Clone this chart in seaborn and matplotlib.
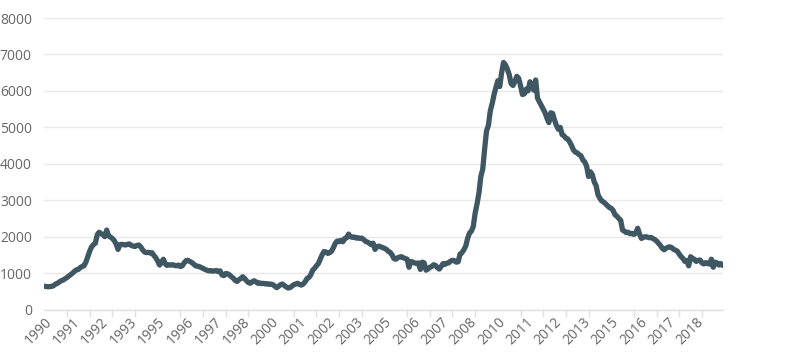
import matplotlib
matplotlib.use('Agg')
import matplotlib.pyplot as plt
import seaborn as sns
import pandas as pd
import numpy as np

# long-term unemployed (27+ weeks), thousands, monthly Jan 1990 - Dec 2019
v1990 = [640, 630, 625, 630, 635, 660, 700, 720, 760, 790, 810, 845]
v1991 = [880, 920, 960, 1000, 1050, 1090, 1100, 1150, 1180, 1200, 1300, 1450]
v1992 = [1600, 1720, 1780, 1820, 2050, 2120, 2080, 2060, 2000, 2180, 2020, 1990]
v1993 = [1950, 1890, 1800, 1650, 1780, 1790, 1780, 1770, 1790, 1800, 1760, 1740]
v1994 = [1730, 1760, 1770, 1720, 1640, 1580, 1560, 1570, 1550, 1560, 1480, 1420]
v1995 = [1330, 1220, 1300, 1380, 1250, 1210, 1230, 1220, 1230, 1210, 1200, 1220]
v1996 = [1180, 1200, 1280, 1340, 1350, 1320, 1290, 1250, 1200, 1190, 1180, 1150]
v1997 = [1130, 1100, 1080, 1060, 1070, 1050, 1060, 1070, 1040, 1060, 950, 930]
v1998 = [990, 980, 950, 900, 860, 800, 770, 820, 850, 900, 850, 790]
v1999 = [740, 720, 760, 790, 760, 720, 730, 710, 720, 700, 710, 690]
v2000 = [700, 680, 640, 600, 640, 680, 700, 660, 620, 590, 600, 640]
v2001 = [680, 700, 720, 690, 670, 700, 760, 850, 880, 950, 1080, 1130]
v2002 = [1200, 1260, 1380, 1500, 1590, 1580, 1540, 1560, 1600, 1700, 1820, 1880]
v2003 = [1860, 1900, 1860, 1950, 1970, 2070, 2000, 1980, 1990, 1960, 1970, 1950]
v2004 = [1960, 1920, 1870, 1850, 1820, 1780, 1820, 1650, 1720, 1740, 1720, 1700]
v2005 = [1680, 1650, 1600, 1570, 1500, 1400, 1380, 1420, 1440, 1450, 1420, 1400]
v2006 = [1380, 1160, 1320, 1300, 1280, 1260, 1280, 1100, 1300, 1280, 1080, 1110]
v2007 = [1160, 1180, 1230, 1210, 1150, 1110, 1180, 1260, 1240, 1270, 1280, 1330]
v2008 = [1350, 1340, 1300, 1310, 1520, 1560, 1640, 1740, 1950, 2100, 2150, 2280]
v2009 = [2650, 2900, 3200, 3650, 3850, 4400, 4900, 5050, 5450, 5650, 5900, 6100]
v2010 = [6280, 6120, 6500, 6780, 6720, 6600, 6450, 6200, 6150, 6250, 6400, 6350]
v2011 = [6150, 5900, 5920, 6050, 6000, 6250, 6150, 6020, 6300, 5800, 5700, 5600]
v2012 = [5500, 5400, 5250, 5130, 5400, 5380, 5200, 5050, 4950, 5000, 4800, 4770]
v2013 = [4700, 4680, 4600, 4500, 4380, 4320, 4300, 4250, 4220, 4100, 4050, 3930]
v2014 = [3650, 3780, 3700, 3500, 3400, 3150, 3050, 2980, 2950, 2900, 2850, 2800]
v2015 = [2780, 2720, 2600, 2560, 2500, 2450, 2180, 2150, 2110, 2120, 2080, 2090]
v2016 = [2060, 2100, 2230, 2070, 1950, 1980, 2000, 1990, 1970, 1980, 1950, 1920]
v2017 = [1880, 1820, 1760, 1680, 1640, 1680, 1710, 1720, 1700, 1650, 1630, 1600]
v2018 = [1520, 1450, 1400, 1320, 1340, 1200, 1450, 1400, 1380, 1320, 1350, 1360]
v2019 = [1280, 1250, 1290, 1260, 1250, 1380, 1160, 1300, 1280, 1220, 1260, 1210]

values = (v1990 + v1991 + v1992 + v1993 + v1994 + v1995 + v1996 + v1997 + v1998
          + v1999 + v2000 + v2001 + v2002 + v2003 + v2004 + v2005 + v2006 + v2007
          + v2008 + v2009 + v2010 + v2011 + v2012 + v2013 + v2014 + v2015 + v2016
          + v2017 + v2018 + v2019)

# axis labels sit every 15 months, tick marks every 12
tick_labels = ['1990', '1991', '1992', '1993', '1995', '1996', '1997', '1998',
               '2000', '2001', '2002', '2003', '2005', '2006', '2007', '2008',
               '2010', '2011', '2012', '2013', '2015', '2016', '2017', '2018']
y_ticks = [0, 1000, 2000, 3000, 4000, 5000, 6000, 7000, 8000]

df = pd.DataFrame({'month': np.arange(len(values)), 'value': values})

sns.set_theme(style='white')
plt.rcParams['font.family'] = ['Open Sans', 'DejaVu Sans']

fig = plt.figure(figsize=(8, 3.57), dpi=100)
ax = fig.add_axes([0.0554, 0.133, 0.848, 0.8165])

sns.lineplot(data=df, x='month', y='value', ax=ax, color='#3f5763',
             linewidth=3.8, solid_capstyle='round', solid_joinstyle='round')

ax.set_xlim(0, len(values) - 1)
ax.set_ylim(0, 8000)
ax.set_yticks(y_ticks)
ax.set_yticklabels([str(t) for t in y_ticks])
ax.yaxis.grid(True, color='#e8e8e8', linewidth=1)
ax.set_axisbelow(True)

label_pos = [i * 15 for i in range(len(tick_labels))]
ax.set_xticks(label_pos)
ax.set_xticklabels(tick_labels, rotation=45, ha='right', va='top',
                   rotation_mode='anchor')
ax.set_xticks(np.arange(0, len(values), 12), minor=True)
ax.tick_params(axis='x', which='major', length=0, pad=4, labelsize=10,
               labelcolor='#666666')
ax.tick_params(axis='x', which='minor', length=5, width=1, color='#e0e0e0',
               direction='out', bottom=True)
ax.tick_params(axis='y', length=0, pad=9, labelsize=10, labelcolor='#666666')

for s in ['top', 'right', 'left']:
    ax.spines[s].set_visible(False)
ax.spines['bottom'].set_color('#e0e0e0')
ax.spines['bottom'].set_linewidth(1)
ax.set_xlabel('')
ax.set_ylabel('')

fig.savefig('out.png', dpi=100, facecolor='white')
plt.close(fig)
